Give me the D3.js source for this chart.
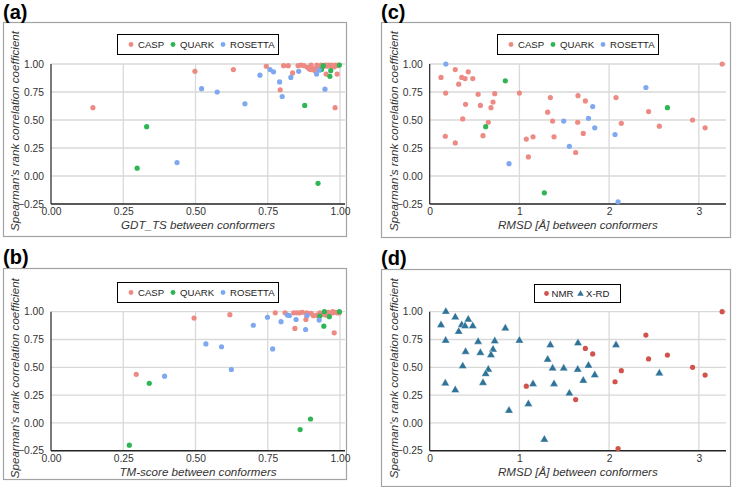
<!DOCTYPE html>
<html><head><meta charset="utf-8">
<script src="https://cdn.jsdelivr.net/npm/d3@7"></script>
<style>body{margin:0;background:#fff} svg{display:block}</style>
</head><body>
<svg id="chart" width="733" height="487"></svg>
<script>
// ---------------- DATA ----------------
const methodNames = ["CASP", "QUARK", "ROSETTA"];
const sourceNames = ["NMR", "X-RD"];
const rhoTicks = [-0.25, 0, 0.25, 0.5, 0.75, 1.0];
const scoreTicks = [0, 0.25, 0.5, 0.75, 1.0];
const rmsdTicks = [0, 1, 2, 3];

// (a) GDT_TS vs Spearman rho
const gdtCASP = [[0.145,0.61],[0.498,0.935],[0.631,0.95],[0.745,0.98],[0.793,0.77],[0.805,0.985],[0.821,0.985],
  [0.836,0.92],[0.855,0.985],[0.865,0.99],[0.875,0.985],[0.887,0.97],[0.894,0.955],[0.90,0.95],[0.90,0.99],[0.91,0.96],
  [0.913,0.94],[0.92,0.99],[0.925,0.97],[0.935,0.99],[0.94,0.975],[0.95,0.99],[0.952,0.91],[0.955,0.98],[0.96,0.99],
  [0.97,0.99],[0.97,0.98],[0.975,0.985],[0.98,0.975],[0.985,0.99],[0.99,0.985],[0.995,0.99],[0.99,0.91],[0.983,0.61]];
const gdtQUARK = [[0.298,0.07],[0.331,0.44],[0.878,0.63],[0.924,-0.065],[0.965,0.89],[0.968,0.94],[0.936,0.95],
  [0.942,0.985],[0.998,0.99]];
const gdtROSETTA = [[0.436,0.12],[0.521,0.78],[0.575,0.75],[0.671,0.645],[0.723,0.90],[0.758,0.95],[0.77,0.93],
  [0.791,0.84],[0.80,0.71],[0.83,0.88],[0.857,0.935],[0.919,0.91],[0.928,0.945],[0.948,0.775]];

// (b) TM-score vs Spearman rho
const tmCASP = [[0.295,0.437],[0.495,0.943],[0.619,0.973],[0.776,0.99],[0.81,0.99],[0.84,0.99],[0.85,0.99],
  [0.86,0.99],[0.87,0.995],[0.885,0.99],[0.844,0.85],[0.882,0.93],[0.885,0.964],[0.9,0.985],[0.908,0.964],
  [0.92,0.97],[0.925,0.96],[0.93,0.99],[0.935,0.975],[0.94,0.98],[0.95,0.97],[0.955,0.99],[0.96,0.995],
  [0.965,0.985],[0.975,0.99],[0.975,1.0],[0.985,0.995],[0.99,0.99],[0.997,0.99],[0.98,0.81]];
const tmQUARK = [[0.271,-0.20],[0.34,0.356],[0.862,-0.06],[0.898,0.035],[0.944,0.87],[0.93,0.96],[0.963,0.955],
  [0.946,1.0],[0.998,1.0]];
const tmROSETTA = [[0.393,0.42],[0.536,0.71],[0.59,0.685],[0.624,0.48],[0.70,0.878],[0.749,0.95],[0.796,0.91],
  [0.767,0.665],[0.818,0.97],[0.825,0.966],[0.848,0.93],[0.881,0.84],[0.886,0.966],[0.928,0.925]];

// (c)/(d) RMSD vs Spearman rho, with prediction method and experimental source
const rmsdValues = [0.18,0.285,0.43,0.126,0.357,0.394,0.48,0.323,0.843,0.178,0.54,0.725,1.0,1.345,0.40,0.565,0.706,
  0.683,1.315,0.368,0.653,0.624,1.37,1.494,0.174,0.285,0.594,1.077,1.152,1.386,1.557,1.10,0.884,1.278,3.26,2.41,
  1.653,2.077,1.735,1.817,2.65,2.44,1.77,1.65,1.84,2.136,2.93,2.56,3.07,1.712,2.066,1.627,2.10];
const rmsdRho = [1.00,0.95,0.93,0.88,0.88,0.87,0.87,0.82,0.85,0.74,0.73,0.735,0.74,0.70,0.64,0.63,0.66,
  0.61,0.57,0.51,0.48,0.44,0.49,0.49,0.355,0.295,0.36,0.33,0.35,0.35,0.265,0.17,0.11,-0.15,1.00,0.79,
  0.717,0.70,0.67,0.62,0.61,0.575,0.515,0.48,0.43,0.47,0.50,0.445,0.43,0.38,0.37,0.21,-0.23];
const rmsdMethod = ["ROSETTA","CASP","CASP","CASP","CASP","CASP","CASP","CASP","QUARK","CASP","CASP","CASP","CASP",
  "CASP","CASP","CASP","CASP","CASP","CASP","CASP","CASP","QUARK","CASP","ROSETTA","CASP","CASP","CASP","CASP",
  "CASP","CASP","ROSETTA","CASP","ROSETTA","QUARK","CASP","ROSETTA","CASP","CASP","CASP","ROSETTA","QUARK","CASP",
  "ROSETTA","CASP","ROSETTA","CASP","CASP","CASP","CASP","CASP","ROSETTA","CASP","ROSETTA"];
const rmsdSource = ["X-RD","X-RD","X-RD","X-RD","X-RD","X-RD","X-RD","X-RD","X-RD","X-RD","X-RD","X-RD","X-RD",
  "X-RD","X-RD","X-RD","X-RD","X-RD","X-RD","X-RD","X-RD","X-RD","X-RD","X-RD","X-RD","X-RD","X-RD","NMR",
  "X-RD","X-RD","X-RD","X-RD","X-RD","X-RD","NMR","NMR","X-RD","X-RD","NMR","NMR","NMR","NMR",
  "X-RD","X-RD","X-RD","NMR","NMR","X-RD","NMR","X-RD","NMR","NMR","NMR"];

// ---------------- STYLE ----------------
const colors = {CASP:"#ec8a83", QUARK:"#2db653", ROSETTA:"#7ea8f0", "NMR":"#d1534c", "X-RD":"#2f7399"};
const FONT = "'Liberation Sans', Arial, Helvetica, sans-serif";

const svg = d3.select("#chart");
const rmsdPoints = rmsdValues.map((v,i)=>({x:v, y:rmsdRho[i], m:rmsdMethod[i], s:rmsdSource[i]}));

function drawPanel(cfg){
  const g = svg.append("g");
  const [fx0,fy0,fx1,fy1] = cfg.frame;
  g.append("rect").attr("x",fx0+0.5).attr("y",fy0+0.5).attr("width",fx1-fx0).attr("height",fy1-fy0)
    .attr("fill","#fff").attr("stroke","#a3a3a3").attr("stroke-width",1.2);
  g.append("text").attr("x",cfg.labelX).attr("y",cfg.labelY).text(cfg.label)
    .attr("font-family",FONT).attr("font-weight","bold").attr("font-size",20).attr("fill","#000");

  const [pl,pt,pr,pb] = cfg.plot;
  const x = d3.scaleLinear().domain(cfg.xDomain).range([pl,pr]);
  const y = d3.scaleLinear().domain([-0.25,1.0]).range([pb,pt]);

  // gridlines
  g.append("g").selectAll("line").data(rhoTicks.filter(t=>t>-0.25)).join("line")
    .attr("x1",pl).attr("x2",pr).attr("y1",d=>y(d)).attr("y2",d=>y(d))
    .attr("stroke","#d9d9d9").attr("stroke-width",1.3);
  g.append("g").selectAll("line").data(cfg.xTicks.filter(t=>t>0)).join("line")
    .attr("x1",d=>x(d)).attr("x2",d=>x(d)).attr("y1",pt).attr("y2",pb)
    .attr("stroke","#d9d9d9").attr("stroke-width",1.3);

  // axes (labels via d3 axes)
  const yAxis = d3.axisLeft(y).tickValues(rhoTicks).tickSize(0).tickPadding(7).tickFormat(d3.format(".2f"));
  const ya = g.append("g").attr("transform",`translate(${pl},0)`).call(yAxis);
  const xAxis = d3.axisBottom(x).tickValues(cfg.xTicks).tickSize(0).tickPadding(4).tickFormat(cfg.xFormat);
  const xa = g.append("g").attr("transform",`translate(0,${pb})`).call(xAxis);
  [ya,xa].forEach(a=>{
    a.select(".domain").remove();
    a.selectAll("text").attr("font-family",FONT).attr("font-size",10.3).attr("fill","#333");
  });
  g.append("line").attr("x1",pl).attr("x2",pl).attr("y1",pt).attr("y2",pb).attr("stroke","#222").attr("stroke-width",1.2);
  g.append("line").attr("x1",pl).attr("x2",pr).attr("y1",pb).attr("y2",pb).attr("stroke","#222").attr("stroke-width",1.4);

  // titles
  g.append("text").attr("x",(pl+pr)/2).attr("y",pb+25).attr("text-anchor","middle")
    .attr("font-family",FONT).attr("font-style","italic").attr("font-size",11.6).attr("fill","#333").text(cfg.xTitle);
  g.append("text").attr("transform",`translate(${cfg.yTitleX},${(pt+pb)/2-3}) rotate(-90)`).attr("text-anchor","middle")
    .attr("font-family",FONT).attr("font-style","italic").attr("font-size",11.6).attr("fill","#333")
    .text("Spearman's rank correlation coefficient");

  // marks
  cfg.series.forEach(s=>{
    if(s.shape==="triangle"){
      g.append("g").selectAll("path").data(s.data).join("path")
        .attr("d",d3.symbol(d3.symbolTriangle,30))
        .attr("transform",d=>`translate(${x(d[0])},${y(d[1])})`)
        .attr("fill",s.color).attr("stroke","#fff").attr("stroke-width",0.4);
    } else {
      g.append("g").selectAll("circle").data(s.data).join("circle")
        .attr("cx",d=>x(d[0])).attr("cy",d=>y(d[1])).attr("r",2.6)
        .attr("fill",s.color);
    }
  });

  // legend
  const L = cfg.legend;
  g.append("rect").attr("x",L.box[0]+0.5).attr("y",L.box[1]+0.5).attr("width",L.box[2]-L.box[0]).attr("height",L.box[3]-L.box[1])
    .attr("fill","#fff").attr("stroke","#000").attr("stroke-width",1);
  const cy = (L.box[1]+L.box[3])/2+0.5;
  L.items.forEach(it=>{
    if(it.shape==="triangle"){
      g.append("path").attr("d",d3.symbol(d3.symbolTriangle,18)).attr("transform",`translate(${it.mx},${cy+0.5})`).attr("fill",it.color);
    } else {
      g.append("circle").attr("cx",it.mx).attr("cy",cy).attr("r",2.4).attr("fill",it.color);
    }
    g.append("text").attr("x",it.tx).attr("y",cy+3.5).text(it.name)
      .attr("font-family",FONT).attr("font-size",9.6).attr("fill","#222");
  });
}

function methodItems(dx){
  return [
    {name:methodNames[0], color:colors.CASP, mx:131+dx, tx:138+dx},
    {name:methodNames[1], color:colors.QUARK, mx:173+dx, tx:180+dx},
    {name:methodNames[2], color:colors.ROSETTA, mx:223+dx, tx:230+dx}
  ];
}
const fmt2 = d3.format(".2f"), fmt0 = d3.format("d");
const rmsdByMethod = m => rmsdPoints.filter(p=>p.m===m).map(p=>[p.x,p.y]);
const rmsdBySource = s => rmsdPoints.filter(p=>p.s===s).map(p=>[p.x,p.y]);

drawPanel({label:"(a)", labelX:3, labelY:18.5, frame:[3,22,346,236], plot:[51,64,345,204],
  xDomain:[0,1.0173], xTicks:scoreTicks, xFormat:fmt2, xTitle:"GDT_TS between conformers", yTitleX:19,
  legend:{box:[117,34,278,54], items:methodItems(0)},
  series:[{data:gdtCASP,color:colors.CASP},{data:gdtQUARK,color:colors.QUARK},{data:gdtROSETTA,color:colors.ROSETTA}]});

drawPanel({label:"(c)", labelX:381, labelY:18.5, frame:[381,22,730,237], plot:[429.7,64,726,204],
  xDomain:[0,3.303], xTicks:rmsdTicks, xFormat:fmt0, xTitle:"RMSD [Å] between conformers", yTitleX:398,
  legend:{box:[497,34,658,54], items:methodItems(380)},
  series:methodNames.map(m=>({data:rmsdByMethod(m), color:colors[m]}))});

drawPanel({label:"(b)", labelX:3, labelY:263.5, frame:[3,268,346,479], plot:[51,311.7,345,450.7],
  xDomain:[0,1.0173], xTicks:scoreTicks, xFormat:fmt2, xTitle:"TM-score between conformers", yTitleX:19,
  legend:{box:[117,282,278,302], items:methodItems(0)},
  series:[{data:tmCASP,color:colors.CASP},{data:tmQUARK,color:colors.QUARK},{data:tmROSETTA,color:colors.ROSETTA}]});

drawPanel({label:"(d)", labelX:381, labelY:264.5, frame:[381,269,730,486], plot:[429.7,311.7,726,450.7],
  xDomain:[0,3.303], xTicks:rmsdTicks, xFormat:fmt0, xTitle:"RMSD [Å] between conformers", yTitleX:398,
  legend:{box:[534,284,620,302], items:[
    {name:sourceNames[0], color:colors.NMR, mx:546.5, tx:551.5},
    {name:sourceNames[1], color:colors["X-RD"], mx:580.5, tx:586, shape:"triangle"}]},
  series:[{data:rmsdBySource("NMR"), color:colors.NMR},{data:rmsdBySource("X-RD"), color:colors["X-RD"], shape:"triangle"}]});
</script>
</body></html>
